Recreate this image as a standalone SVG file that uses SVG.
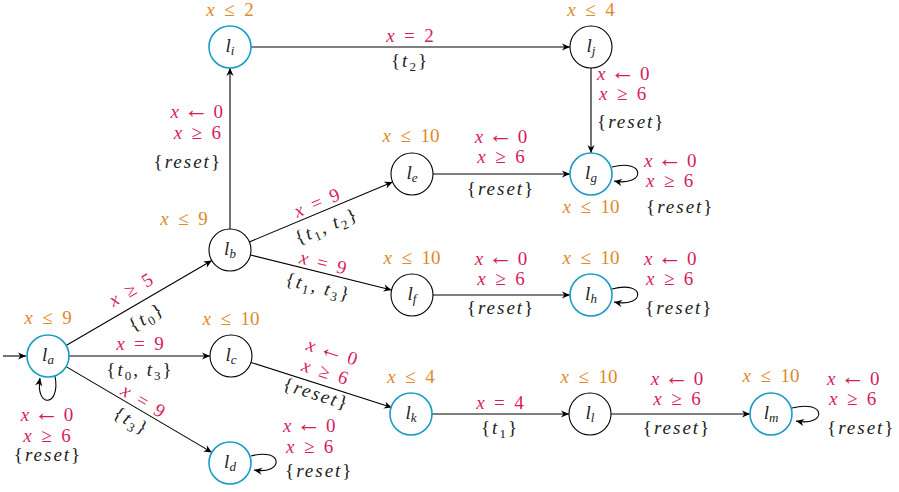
<svg xmlns="http://www.w3.org/2000/svg" width="899" height="492" viewBox="0 0 899 492">
<style>
text { font-family: "Liberation Serif", "Times New Roman", "DejaVu Serif", serif; font-size: 19px; text-anchor: middle; }
.o { fill: #e0892b; }
.m { fill: #d61c5c; }
.k { fill: #222222; letter-spacing: 2px; }
.i { font-style: italic; }
.s { font-size: 13px; }
.a { font-size: 25px; }
.nl { fill: #222222; font-size: 19px; }
.st { text-anchor: start; }
.en { text-anchor: end; }
.n { fill: #ffffff; stroke: #000000; stroke-width: 1.1; }
.nb { fill: #ffffff; stroke: #1a9bc6; stroke-width: 1.6; }
.e { fill: none; stroke: #000000; stroke-width: 1.1; marker-end: url(#arr); }
</style>
<defs>
<marker id="arr" viewBox="-9 -5 10 10" refX="0" refY="0" markerWidth="10" markerHeight="10" markerUnits="userSpaceOnUse" orient="auto">
<path d="M0,0 L-8,-3.6 L-5.6,0 L-8,3.6 Z" fill="#000000"/>
</marker>
</defs>

<g id="connectors">
<path class="e" d="M3,356 L26,356"/>
<path class="e" d="M66.1,345.4 L211.9,260.6"/>
<path class="e" d="M69,356 L210,356"/>
<path class="e" d="M66.1,366.6 L211.9,452.4"/>
<path class="e" d="M55,376 C61,407 35,409 40,378"/>
<path class="e" d="M230,229 L230,68"/>
<path class="e" d="M251,47 L570,47"/>
<path class="e" d="M591,68 L591,153"/>
<path class="e" d="M249.4,241.9 L392.6,182.1"/>
<path class="e" d="M250.4,255 L391.6,290"/>
<path class="e" d="M433,174 L570,174"/>
<path class="e" d="M612,167 C646,158 646,187 614,181"/>
<path class="e" d="M433,295 L570,295"/>
<path class="e" d="M612,289 C646,280 646,308 614,302"/>
<path class="e" d="M251,362.4 L392,407.6"/>
<path class="e" d="M251,456 C284,447 284,475 254,470"/>
<path class="e" d="M432,414 L569,414"/>
<path class="e" d="M611,414 L750,414"/>
<path class="e" d="M792,408 C827,399 827,427 796,421"/>

<text class="m" transform="rotate(-30.2 131 290)" x="131" y="296"><tspan class="i">x</tspan>&#8194;≥&#8194;5</text>
<text class="k" transform="rotate(-30.2 147 318)" x="147" y="323">{<tspan class="i">t</tspan><tspan class="s" dy="4">0</tspan><tspan dy="-4">}</tspan></text>
<text class="m" x="140" y="350"><tspan class="i">x</tspan>&#8194;=&#8194;9</text>
<text class="k" x="140" y="376">{<tspan class="i">t</tspan><tspan class="s" dy="4">0</tspan><tspan dy="-4">, </tspan><tspan class="i">t</tspan><tspan class="s" dy="4">3</tspan><tspan dy="-4">}</tspan></text>
<text class="m" transform="rotate(30.5 143 401)" x="143" y="407"><tspan class="i">x</tspan>&#8194;=&#8194;9</text>
<text class="k" transform="rotate(30.5 131 422)" x="131" y="427">{<tspan class="i">t</tspan><tspan class="s" dy="4">3</tspan><tspan dy="-4">}</tspan></text>
<text class="m" x="47" y="421"><tspan class="i">x</tspan> <tspan class="a">←</tspan> 0</text>
<text class="m" x="47" y="442"><tspan class="i">x</tspan>&#8194;≥&#8194;6</text>
<text class="k" x="48" y="461">{<tspan class="i">reset</tspan>}</text>

<text class="m en" x="223" y="118"><tspan class="i">x</tspan> <tspan class="a">←</tspan> 0</text>
<text class="m en" x="221" y="139"><tspan class="i">x</tspan>&#8194;≥&#8194;6</text>
<text class="k en" x="222" y="168">{<tspan class="i">reset</tspan>}</text>

<text class="m" x="410" y="42"><tspan class="i">x</tspan>&#8194;=&#8194;2</text>
<text class="k" x="410" y="67">{<tspan class="i">t</tspan><tspan class="s" dy="4">2</tspan><tspan dy="-4">}</tspan></text>

<text class="m st" x="597" y="80"><tspan class="i">x</tspan> <tspan class="a">←</tspan> 0</text>
<text class="m st" x="599" y="100"><tspan class="i">x</tspan>&#8194;≥&#8194;6</text>
<text class="k st" x="597" y="128">{<tspan class="i">reset</tspan>}</text>

<text class="m" transform="rotate(-22.7 317 203)" x="317" y="209"><tspan class="i">x</tspan>&#8194;=&#8194;9</text>
<text class="k" transform="rotate(-22.7 327 227)" x="327" y="232">{<tspan class="i">t</tspan><tspan class="s" dy="4">1</tspan><tspan dy="-4">, </tspan><tspan class="i">t</tspan><tspan class="s" dy="4">2</tspan><tspan dy="-4">}</tspan></text>
<text class="m" transform="rotate(13.9 323 263)" x="323" y="269"><tspan class="i">x</tspan>&#8194;=&#8194;9</text>
<text class="k" transform="rotate(13.9 318 288)" x="318" y="293">{<tspan class="i">t</tspan><tspan class="s" dy="4">1</tspan><tspan dy="-4">, </tspan><tspan class="i">t</tspan><tspan class="s" dy="4">3</tspan><tspan dy="-4">}</tspan></text>

<text class="m" x="501" y="143"><tspan class="i">x</tspan> <tspan class="a">←</tspan> 0</text>
<text class="m" x="501" y="163"><tspan class="i">x</tspan>&#8194;≥&#8194;6</text>
<text class="k" x="501" y="195">{<tspan class="i">reset</tspan>}</text>

<text class="m st" x="644" y="167"><tspan class="i">x</tspan> <tspan class="a">←</tspan> 0</text>
<text class="m st" x="646" y="187"><tspan class="i">x</tspan>&#8194;≥&#8194;6</text>
<text class="k st" x="646" y="213">{<tspan class="i">reset</tspan>}</text>

<text class="m" x="501" y="265"><tspan class="i">x</tspan> <tspan class="a">←</tspan> 0</text>
<text class="m" x="501" y="285"><tspan class="i">x</tspan>&#8194;≥&#8194;6</text>
<text class="k" x="501" y="314">{<tspan class="i">reset</tspan>}</text>

<text class="m st" x="644" y="265"><tspan class="i">x</tspan> <tspan class="a">←</tspan> 0</text>
<text class="m st" x="646" y="285"><tspan class="i">x</tspan>&#8194;≥&#8194;6</text>
<text class="k st" x="645" y="314">{<tspan class="i">reset</tspan>}</text>

<text class="m" transform="rotate(17.8 332 352)" x="332" y="358"><tspan class="i">x</tspan> <tspan class="a">←</tspan> 0</text>
<text class="m" transform="rotate(17.8 325 372)" x="325" y="378"><tspan class="i">x</tspan>&#8194;≥&#8194;6</text>
<text class="k" transform="rotate(17.8 316 395)" x="316" y="400">{<tspan class="i">reset</tspan>}</text>

<text class="m st" x="283" y="432"><tspan class="i">x</tspan> <tspan class="a">←</tspan> 0</text>
<text class="m st" x="286" y="453"><tspan class="i">x</tspan>&#8194;≥&#8194;6</text>
<text class="k st" x="285" y="477">{<tspan class="i">reset</tspan>}</text>

<text class="m" x="500" y="409"><tspan class="i">x</tspan>&#8194;=&#8194;4</text>
<text class="k" x="500" y="434">{<tspan class="i">t</tspan><tspan class="s" dy="4">1</tspan><tspan dy="-4">}</tspan></text>

<text class="m" x="677" y="385"><tspan class="i">x</tspan> <tspan class="a">←</tspan> 0</text>
<text class="m" x="677" y="405"><tspan class="i">x</tspan>&#8194;≥&#8194;6</text>
<text class="k" x="677" y="434">{<tspan class="i">reset</tspan>}</text>

<text class="m st" x="827" y="385"><tspan class="i">x</tspan> <tspan class="a">←</tspan> 0</text>
<text class="m st" x="829" y="405"><tspan class="i">x</tspan>&#8194;≥&#8194;6</text>
<text class="k st" x="827" y="434">{<tspan class="i">reset</tspan>}</text>
</g>

<g id="node-la"><circle class="nb" cx="48" cy="356" r="21"/><text class="nl" x="48" y="361"><tspan class="i">l</tspan><tspan class="i s" dy="3">a</tspan></text><text class="o" x="48" y="324"><tspan class="i">x</tspan>&#8194;≤&#8194;9</text></g>
<g id="node-lb"><circle class="n" cx="230" cy="250" r="21"/><text class="nl" x="230" y="255"><tspan class="i">l</tspan><tspan class="i s" dy="3">b</tspan></text><text class="o" x="184" y="225"><tspan class="i">x</tspan>&#8194;≤&#8194;9</text></g>
<g id="node-lc"><circle class="n" cx="231" cy="356" r="21"/><text class="nl" x="231" y="361"><tspan class="i">l</tspan><tspan class="i s" dy="3">c</tspan></text><text class="o" x="231" y="325"><tspan class="i">x</tspan>&#8194;≤&#8194;10</text></g>
<g id="node-ld"><circle class="nb" cx="230" cy="463" r="21"/><text class="nl" x="230" y="468"><tspan class="i">l</tspan><tspan class="i s" dy="3">d</tspan></text></g>
<g id="node-li"><circle class="nb" cx="230" cy="47" r="21"/><text class="nl" x="230" y="52"><tspan class="i">l</tspan><tspan class="i s" dy="3">i</tspan></text><text class="o" x="230" y="16"><tspan class="i">x</tspan>&#8194;≤&#8194;2</text></g>
<g id="node-lj"><circle class="n" cx="591" cy="47" r="21"/><text class="nl" x="591" y="52"><tspan class="i">l</tspan><tspan class="i s" dy="3">j</tspan></text><text class="o" x="591" y="16"><tspan class="i">x</tspan>&#8194;≤&#8194;4</text></g>
<g id="node-le"><circle class="n" cx="412" cy="174" r="21"/><text class="nl" x="412" y="179"><tspan class="i">l</tspan><tspan class="i s" dy="3">e</tspan></text><text class="o" x="411" y="142"><tspan class="i">x</tspan>&#8194;≤&#8194;10</text></g>
<g id="node-lg"><circle class="nb" cx="591" cy="174" r="21"/><text class="nl" x="591" y="179"><tspan class="i">l</tspan><tspan class="i s" dy="3">g</tspan></text><text class="o" x="591" y="213"><tspan class="i">x</tspan>&#8194;≤&#8194;10</text></g>
<g id="node-lf"><circle class="n" cx="412" cy="295" r="21"/><text class="nl" x="412" y="300"><tspan class="i">l</tspan><tspan class="i s" dy="3">f</tspan></text><text class="o" x="412" y="264"><tspan class="i">x</tspan>&#8194;≤&#8194;10</text></g>
<g id="node-lh"><circle class="nb" cx="591" cy="295" r="21"/><text class="nl" x="591" y="300"><tspan class="i">l</tspan><tspan class="i s" dy="3">h</tspan></text><text class="o" x="591" y="264"><tspan class="i">x</tspan>&#8194;≤&#8194;10</text></g>
<g id="node-lk"><circle class="nb" cx="411" cy="414" r="21"/><text class="nl" x="411" y="419"><tspan class="i">l</tspan><tspan class="i s" dy="3">k</tspan></text><text class="o" x="411" y="383"><tspan class="i">x</tspan>&#8194;≤&#8194;4</text></g>
<g id="node-ll"><circle class="n" cx="590" cy="414" r="21"/><text class="nl" x="590" y="419"><tspan class="i">l</tspan><tspan class="i s" dy="3">l</tspan></text><text class="o" x="589" y="383"><tspan class="i">x</tspan>&#8194;≤&#8194;10</text></g>
<g id="node-lm"><circle class="nb" cx="771" cy="414" r="21"/><text class="nl" x="771" y="419"><tspan class="i">l</tspan><tspan class="i s" dy="3">m</tspan></text><text class="o" x="771" y="382"><tspan class="i">x</tspan>&#8194;≤&#8194;10</text></g>
</svg>
